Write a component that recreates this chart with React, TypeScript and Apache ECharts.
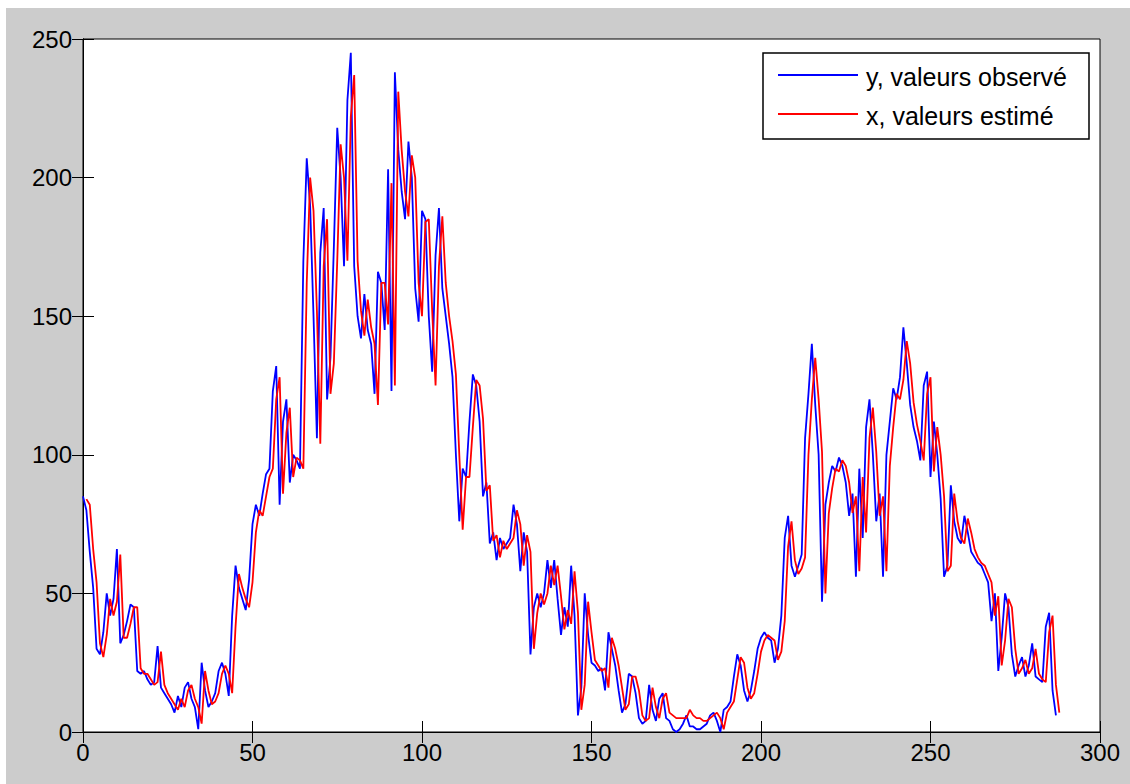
import React, { useEffect, useRef } from "react";
import * as echarts from "echarts";

// x-axis ticks and y-axis ticks
const X_TICKS = [0, 50, 100, 150, 200, 250, 300];
const Y_TICKS = [0, 50, 100, 150, 200, 250];

// first sample index of each series
const OBS_START = 0;
const EST_START = 1;

// y, valeurs observé (blue)
const observed = [
  85, 80, 65, 52, 30, 28, 36, 50, 42, 48,
  66, 32, 35, 40, 46, 45, 22, 21, 22, 19,
  17, 18, 31, 16, 14, 12, 10, 7, 13, 9,
  16, 18, 12, 9, 1, 25, 15, 9, 11, 14,
  22, 25, 21, 13, 42, 60, 52, 48, 44, 55,
  75, 82, 78, 86, 93, 95, 123, 132, 82, 112,
  120, 90, 100, 98, 95, 170, 207, 190, 150, 106,
  173, 189, 120, 135, 175, 218, 200, 168, 228, 245,
  168, 150, 142, 158, 145, 140, 122, 166, 162, 145,
  203, 123, 238, 210, 195, 185, 213, 200, 160, 148,
  188, 185, 150, 130, 172, 189, 160, 150, 140, 128,
  100, 76, 95, 92, 112, 129, 125, 112, 85, 90,
  68, 72, 62, 70, 66, 68, 70, 82, 75, 58,
  72, 65, 28, 45, 50, 45, 50, 62, 52, 62,
  48, 35, 45, 38, 60, 42, 6, 16, 50, 35,
  25, 24, 22, 23, 15, 36, 30, 24, 15, 7,
  10, 21, 20, 14, 5, 3, 4, 17, 8, 4,
  12, 14, 5, 4, 1, 0, 1, 3, 6, 2,
  2, 1, 1, 2, 3, 6, 7, 4, 0, 8,
  9, 11, 20, 28, 24, 15, 11, 15, 22, 30,
  34, 36, 34, 33, 25, 30, 42, 70, 78, 60,
  56, 60, 64, 106, 122, 140, 118, 100, 47, 82,
  90, 96, 94, 99, 96, 90, 78, 86, 56, 95,
  70, 110, 120, 100, 76, 86, 56, 100, 112, 124,
  120, 128, 146, 133, 118, 110, 105, 98, 125, 130,
  92, 112, 100, 84, 56, 60, 89, 76, 70, 68,
  78, 72, 65, 63, 61, 60, 57, 54, 40, 50,
  22, 34, 50, 45, 28, 20, 24, 27, 20, 24,
  32, 20, 19, 18, 38, 43, 15, 6,
];

// x, valeurs estimé (red)
const estimated = [
  84, 82, 66, 54, 32, 27, 35, 48, 42, 47,
  64, 34, 34, 39, 45, 45, 23, 21, 21, 19,
  17, 18, 29, 17, 14, 12, 10, 8, 12, 9,
  15, 17, 12, 9, 3, 22, 15, 10, 11, 14,
  21, 24, 21, 14, 38, 57, 52, 48, 45, 54,
  72, 80, 78, 85, 92, 95, 120, 128, 86, 108,
  117, 92, 99, 98, 95, 162, 200, 188, 152, 104,
  168, 185, 122, 133, 170, 212, 200, 170, 222, 237,
  170, 152, 143, 156, 146, 140, 118, 162, 162, 147,
  198, 125, 231, 210, 195, 186, 208, 200, 162, 150,
  184, 185, 152, 125, 168, 186, 162, 150, 141, 129,
  100, 73, 92, 92, 110, 127, 125, 113, 87, 89,
  69, 71, 63, 69, 66, 68, 70, 80, 75, 60,
  71, 65, 30, 43, 50, 46, 50, 60, 53, 60,
  49, 37, 44, 39, 58, 43, 8, 17, 47, 36,
  26, 24, 22, 23, 16, 34, 30, 24, 16, 8,
  10, 20, 20, 15, 6, 4, 5, 16, 9, 5,
  12, 14, 7, 6, 5, 5, 5, 5, 8, 6,
  5, 5, 4, 4, 5, 6, 7, 5, 1, 7,
  9, 11, 19, 27, 25, 16, 12, 14, 21, 29,
  33, 35, 34, 33, 26, 29, 40, 67, 76, 62,
  57, 59, 63, 100, 120, 135, 120, 101, 50, 79,
  88, 95, 94, 98, 96, 90, 79, 85, 58, 92,
  72, 106, 117, 101, 78, 85, 58, 96, 110, 122,
  120, 127, 141, 133, 119, 111, 105, 98, 122, 128,
  94, 110, 100, 85, 58, 60, 86, 76, 70, 68,
  77, 72, 66, 63, 61, 60, 57, 54, 42, 49,
  24, 33, 48, 45, 30, 21, 23, 26, 21, 23,
  30, 21, 19, 18, 36, 42, 17, 7,
];

const LEGEND_LABELS = ["y, valeurs observé", "x, valeurs estimé"];

const FONT = "'Liberation Sans', Arial, Helvetica, sans-serif";

export default function App() {
  const ref = useRef<HTMLDivElement>(null);

  useEffect(() => {
    if (!ref.current) return;
    const chart = echarts.init(ref.current, undefined, { renderer: "svg" });

    const obsData = observed.map((v, i) => [OBS_START + i, v]);
    const estData = estimated.map((v, i) => [EST_START + i, v]);

    const xMin = X_TICKS[0];
    const xMax = X_TICKS[X_TICKS.length - 1];
    const xInt = X_TICKS[1] - X_TICKS[0];
    const yMin = Y_TICKS[0];
    const yMax = Y_TICKS[Y_TICKS.length - 1];
    const yInt = Y_TICKS[1] - Y_TICKS[0];

    const axisLine = { show: true, lineStyle: { color: "#000", width: 1 } };
    const axisTick = { show: true, inside: true, length: 11, lineStyle: { color: "#000", width: 1 } };

    chart.setOption({
      animation: false,
      backgroundColor: "#cccccc",
      grid: {
        left: 77,
        top: 31,
        right: 30,
        bottom: 52,
        show: true,
        backgroundColor: "#ffffff",
        borderColor: "#000",
        borderWidth: 1,
      },
      xAxis: [
        {
          type: "value",
          position: "bottom",
          min: xMin,
          max: xMax,
          interval: xInt,
          axisLine,
          axisTick,
          splitLine: { show: false },
          axisLabel: { color: "#000", fontSize: 24, fontFamily: FONT, margin: 8 },
        },
        {
          type: "value",
          position: "top",
          min: xMin,
          max: xMax,
          interval: xInt,
          axisLine,
          axisTick,
          splitLine: { show: false },
          axisLabel: { show: false },
        },
      ],
      yAxis: [
        {
          type: "value",
          position: "left",
          min: yMin,
          max: yMax,
          interval: yInt,
          axisLine,
          axisTick,
          splitLine: { show: false },
          axisLabel: { color: "#000", fontSize: 24, fontFamily: FONT, margin: 11 },
        },
        {
          type: "value",
          position: "right",
          min: yMin,
          max: yMax,
          interval: yInt,
          axisLine,
          axisTick,
          splitLine: { show: false },
          axisLabel: { show: false },
        },
      ],
      series: [
        {
          name: LEGEND_LABELS[0],
          type: "line",
          xAxisIndex: 0,
          yAxisIndex: 0,
          data: obsData,
          symbol: "none",
          showSymbol: false,
          lineStyle: { color: "#0000ff", width: 1.8 },
          z: 2,
        },
        {
          name: LEGEND_LABELS[1],
          type: "line",
          xAxisIndex: 0,
          yAxisIndex: 0,
          data: estData,
          symbol: "none",
          showSymbol: false,
          lineStyle: { color: "#ff0000", width: 1.8 },
          z: 3,
        },
      ],
      graphic: [
        {
          type: "rect",
          shape: { x: 757, y: 45, width: 326, height: 86 },
          style: { fill: "#ffffff", stroke: "#000", lineWidth: 1.5 },
          z: 100,
        },
        {
          type: "line",
          shape: { x1: 772, y1: 67, x2: 852, y2: 67 },
          style: { stroke: "#0000ff", lineWidth: 2 },
          z: 101,
        },
        {
          type: "line",
          shape: { x1: 772, y1: 106, x2: 852, y2: 106 },
          style: { stroke: "#ff0000", lineWidth: 2 },
          z: 101,
        },
        {
          type: "text",
          x: 860,
          y: 69,
          style: {
            text: LEGEND_LABELS[0],
            fill: "#000",
            font: `25px ${FONT}`,
            verticalAlign: "middle",
            align: "left",
          },
          z: 101,
        },
        {
          type: "text",
          x: 860,
          y: 108,
          style: {
            text: LEGEND_LABELS[1],
            fill: "#000",
            font: `25px ${FONT}`,
            verticalAlign: "middle",
            align: "left",
          },
          z: 101,
        },
      ],
    });

    return () => {
      chart.dispose();
    };
  }, []);

  return (
    <div
      ref={ref}
      style={{ position: "fixed", left: 6, top: 8, width: 1124, height: 776 }}
    />
  );
}
